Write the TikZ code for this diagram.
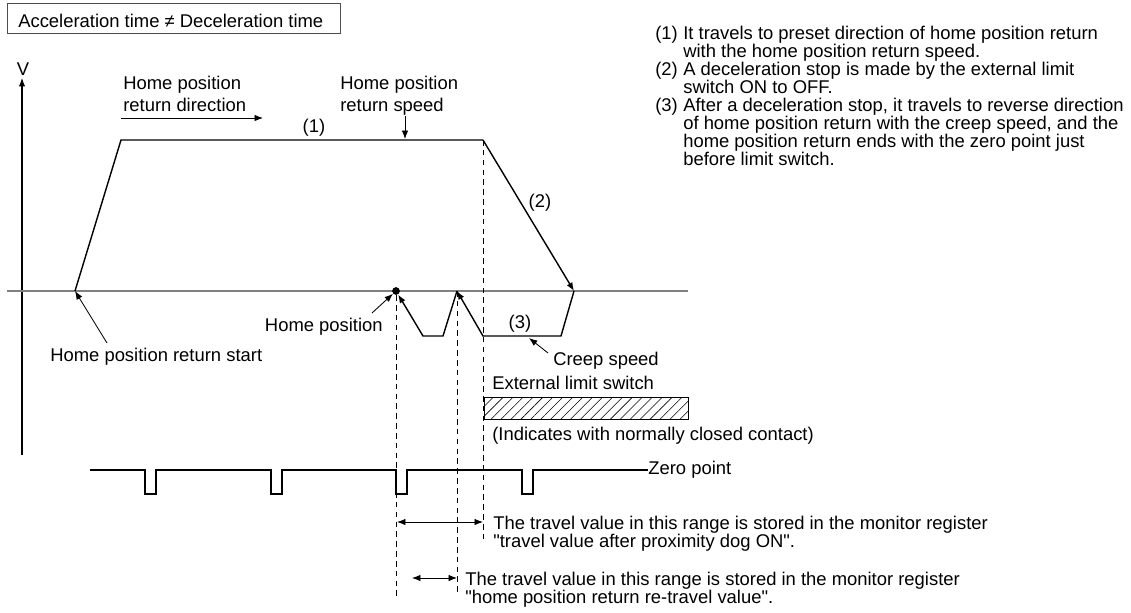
\documentclass[tikz,border=0pt]{standalone}
\usepackage{fontspec}
\setmainfont{Liberation Sans}[Ligatures=TeXOff]
\usetikzlibrary{arrows.meta,patterns.meta}

\begin{document}
\begin{tikzpicture}[x=0.025cm, y=-0.025cm,
  every node/.style={font=\fontsize{13.1}{12.8}\selectfont, inner sep=0pt},
  twoline/.style={anchor=north west, align=left, font=\fontsize{13.1}{16.3}\selectfont},
  listtext/.style={anchor=north west, align=left},
  lbl/.style={anchor=west},
  profile/.style={line width=1pt},
  tip/.style={-{Latex[length=6pt,width=4.6pt]}},
  pointer/.style={line width=0.6pt, -{Latex[length=6pt,width=4.6pt]}},
  spanarrow/.style={line width=0.6pt, {Latex[length=6pt,width=4.6pt]}-{Latex[length=6pt,width=4.6pt]}},
  guide/.style={line width=0.5pt, dash pattern=on 4pt off 3pt}]
\useasboundingbox (0,0) rectangle (1131,612);

% title box
\draw[black!70, line width=0.6pt] (7,3.5) rectangle (340,33);
\node[lbl] (ttl) at (18,21) {Acceleration time ≠ Deceleration time};

% explanation list
\node[anchor=north west] (n1) at (655,25.4) {(1)};
\node[listtext] (item1) at (683,25.4) {It travels to preset direction of home position return\\with the home position return speed.};
\node[anchor=north west] (n2) at (655,61.4) {(2)};
\node[listtext] (item2) at (683,61.4) {A deceleration stop is made by the external limit\\switch ON to OFF.};
\node[anchor=north west] (n3) at (655,97.4) {(3)};
\node[listtext] (item3) at (683,97.4) {After a deceleration stop, it travels to reverse direction\\of home position return with the creep speed, and the\\home position return ends with the zero point just\\before limit switch.};

% axes
\coordinate (vbot) at (22,455);
\coordinate (vtop) at (22,78);
\draw[line width=0.8pt, tip] (vbot) -- (vtop);
\node (vlab) at (23,69) {V};
\coordinate (hl) at (7,291);
\coordinate (hr) at (688,291);
\draw[black!50, line width=1.1pt] (hl) -- (hr);

% speed profile
\coordinate (st) at (75,291);
\coordinate (acc) at (121,140);
\coordinate (dec) at (483,140);
\coordinate (stop) at (574,291);
\coordinate (cr1) at (561,336);
\coordinate (cr2) at (483,336);
\coordinate (rev) at (457,291);
\coordinate (cr3) at (443,336);
\coordinate (cr4) at (423,336);
\node[circle, fill, minimum size=5.5pt] (hp) at (396,291) {};
\draw[profile] (st) -- (acc) -- (dec);
\draw[profile, tip] (dec) -- (stop);
\draw[profile, tip] (stop) -- (cr1) -- (cr2) -- (rev);
\draw[profile, tip] (rev) -- (cr3) -- (cr4) -- (hp);

% guides
\coordinate (g1) at (396,598);
\coordinate (g2) at (457,592);
\coordinate (g3) at (483,543);
\draw[guide] (hp) -- (g1);
\draw[guide] (rev) -- (g2);
\draw[guide] (dec) -- (g3);

% profile labels
\node (p1) at (314,128) {(1)};
\node (p2) at (540,203) {(2)};
\node (p3) at (520,324) {(3)};
\node[twoline] (dirlab) at (123,75.4) {Home position\\return direction};
\coordinate (dir1) at (121,118);
\coordinate (dir2) at (263,118);
\draw[pointer] (dir1) -- (dir2);
\node[twoline] (spdlab) at (340,75.4) {Home position\\return speed};
\coordinate (spd1) at (405,116);
\coordinate (spd2) at (405,139);
\draw[pointer] (spd1) -- (spd2);
\node[anchor=east] (hplab) at (383,327) {Home position};
\coordinate (hpf) at (372,313);
\draw[pointer] (hpf) -- (hp);
\node[lbl] (stlab) at (50,357) {Home position return start};
\coordinate (stf) at (107,343);
\draw[pointer] (stf) -- (st);
\node[lbl] (creep) at (553,361) {Creep speed};
\coordinate (crf) at (548,353);
\coordinate (crt) at (529,338);
\draw[pointer] (crf) -- (crt);

% external limit switch
\node[lbl] (xls) at (492,383) {External limit switch};
\draw[line width=0.6pt, pattern={Lines[angle=45,distance=5pt,line width=0.4pt]}] (484,397) rectangle (688,419);
\node[lbl] (nc) at (492,436) {(Indicates with normally closed contact)};

% zero point signal
\node[lbl] (zp) at (648,470) {Zero point};
\draw[line width=0.8pt] (90,470) -- (145,470) -- (145,494) -- (156,494) -- (156,470)
  -- (271,470) -- (271,494) -- (282,494) -- (282,470)
  -- (396,470) -- (396,494) -- (407,494) -- (407,470)
  -- (522,470) -- (522,494) -- (533,494) -- (533,470) -- (zp.west);

% stored ranges
\coordinate (r1l) at (397,522);
\coordinate (r1r) at (483,522);
\draw[spanarrow] (r1l) -- (r1r);
\node[listtext] (txt1) at (493,516) {The travel value in this range is stored in the monitor register\\"travel value after proximity dog ON".};
\coordinate (r2l) at (412,578);
\coordinate (r2r) at (457,578);
\draw[spanarrow] (r2l) -- (r2r);
\node[listtext] (txt2) at (465,572) {The travel value in this range is stored in the monitor register\\"home position return re-travel value".};
\end{tikzpicture}
\end{document}
